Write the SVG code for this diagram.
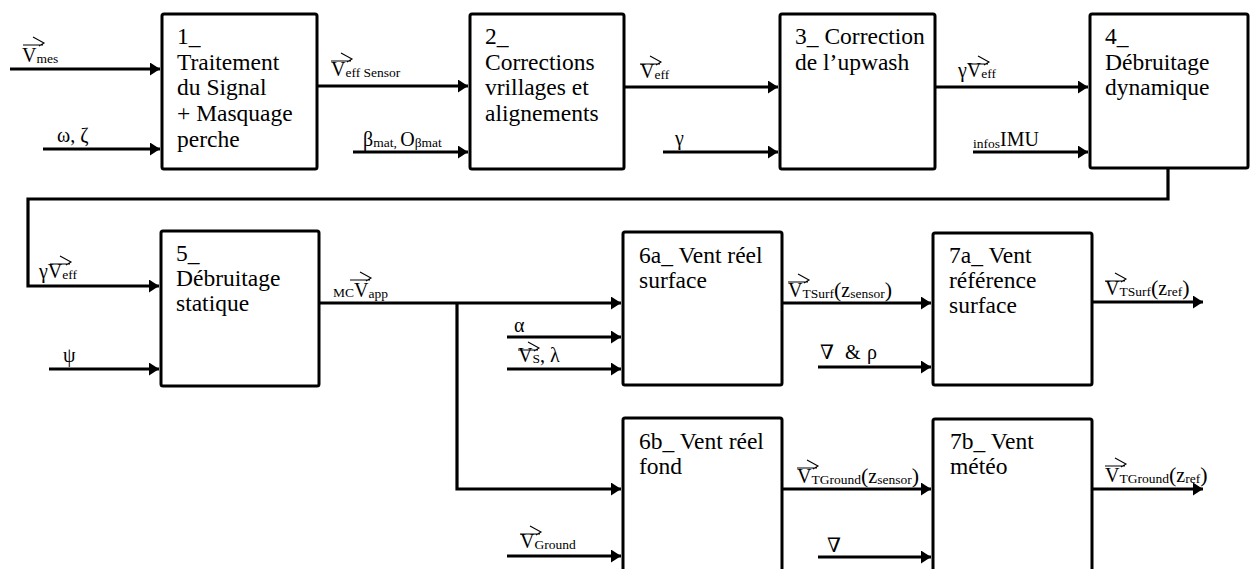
<svg xmlns="http://www.w3.org/2000/svg" width="1251" height="569" viewBox="0 0 1251 569">
<defs>
<style>
.box{fill:#fff;stroke:#000;stroke-width:3;stroke-linejoin:round}
.c{fill:none;stroke:#000;stroke-width:3.2}
.t{font-family:"Liberation Serif","DejaVu Serif",serif;font-size:23.5px;fill:#000}
.m{font-family:"Liberation Serif","DejaVu Serif",serif;font-size:20px;fill:#000}
.s{font-size:13.5px}
.p{font-size:22px}
.v{fill:none;stroke:#000;stroke-width:1.1}
</style>
<marker id="ah" markerUnits="userSpaceOnUse" markerWidth="11" markerHeight="13" refX="10" refY="6.5" orient="auto">
<path d="M0,0 L10,6.5 L0,13 z" fill="#000"/>
</marker>
<path id="vec" d="M0,0 H20 M10,-8 L21,-2 L16,1"/>
</defs>

<g id="connectors">
<path class="c" marker-end="url(#ah)" d="M10,69 H160"/>
<path class="c" marker-end="url(#ah)" d="M43,149 H160"/>
<path class="c" marker-end="url(#ah)" d="M317,86 H468"/>
<path class="c" marker-end="url(#ah)" d="M353,152 H468"/>
<path class="c" marker-end="url(#ah)" d="M624,87 H778"/>
<path class="c" marker-end="url(#ah)" d="M663,152 H778"/>
<path class="c" marker-end="url(#ah)" d="M935,87 H1088"/>
<path class="c" marker-end="url(#ah)" d="M973,152 H1088"/>
<path class="c" marker-end="url(#ah)" d="M1168,169 V199 H28 V286 H159"/>
<path class="c" marker-end="url(#ah)" d="M49,369 H159"/>
<path class="c" marker-end="url(#ah)" d="M319,303 H621"/>
<path class="c" marker-end="url(#ah)" d="M457,303 V489 H621"/>
<path class="c" marker-end="url(#ah)" d="M507,337 H621"/>
<path class="c" marker-end="url(#ah)" d="M507,369 H621"/>
<path class="c" marker-end="url(#ah)" d="M507,556 H621"/>
<path class="c" marker-end="url(#ah)" d="M782,303 H931"/>
<path class="c" marker-end="url(#ah)" d="M818,367 H931"/>
<path class="c" marker-end="url(#ah)" d="M1092,302 H1203"/>
<path class="c" marker-end="url(#ah)" d="M782,489 H931"/>
<path class="c" marker-end="url(#ah)" d="M818,557 H931"/>
<path class="c" marker-end="url(#ah)" d="M1092,489 H1203"/>
</g>

<g id="n1">
<rect class="box" x="162" y="14" width="155" height="155" rx="2"/>
<text class="t" x="177" y="44">1_</text>
<text class="t" x="177" y="70">Traitement</text>
<text class="t" x="177" y="95">du Signal</text>
<text class="t" x="177" y="121">+ Masquage</text>
<text class="t" x="177" y="147">perche</text>
</g>
<g id="n2">
<rect class="box" x="470" y="14" width="154" height="155" rx="2"/>
<text class="t" x="485" y="44">2_</text>
<text class="t" x="485" y="70">Corrections</text>
<text class="t" x="485" y="95">vrillages et</text>
<text class="t" x="485" y="121">alignements</text>
</g>
<g id="n3">
<rect class="box" x="780" y="14" width="155" height="155" rx="2"/>
<text class="t" x="795" y="44">3_ Correction</text>
<text class="t" x="795" y="70">de l’upwash</text>
</g>
<g id="n4">
<rect class="box" x="1090" y="14" width="158" height="154" rx="2"/>
<text class="t" x="1105" y="44">4_</text>
<text class="t" x="1105" y="70">Débruitage</text>
<text class="t" x="1105" y="95">dynamique</text>
</g>
<g id="n5">
<rect class="box" x="161" y="231" width="158" height="155" rx="2"/>
<text class="t" x="176" y="261">5_</text>
<text class="t" x="176" y="286">Débruitage</text>
<text class="t" x="176" y="311">statique</text>
</g>
<g id="n6a">
<rect class="box" x="623" y="232" width="159" height="153" rx="2"/>
<text class="t" x="639" y="263">6a_ Vent réel</text>
<text class="t" x="639" y="288">surface</text>
</g>
<g id="n7a">
<rect class="box" x="933" y="233" width="159" height="152" rx="2"/>
<text class="t" x="949" y="263">7a_ Vent</text>
<text class="t" x="949" y="288">référence</text>
<text class="t" x="949" y="313">surface</text>
</g>
<g id="n6b">
<rect class="box" x="623" y="418" width="159" height="160" rx="2"/>
<text class="t" x="639" y="449">6b_ Vent réel</text>
<text class="t" x="639" y="474">fond</text>
</g>
<g id="n7b">
<rect class="box" x="933" y="419" width="159" height="160" rx="2"/>
<text class="t" x="950" y="449">7b_ Vent</text>
<text class="t" x="950" y="474">météo</text>
</g>

<g id="labels">
<text class="m" x="22" y="62">V<tspan class="s" dy="1">mes</tspan></text>
<use href="#vec" class="v" x="23" y="45"/>
<text class="m" x="57" y="142">ω, ζ</text>

<text class="m" x="331" y="76">V<tspan class="s" dy="1">eff Sensor</tspan></text>
<use href="#vec" class="v" x="331" y="61"/>
<text class="m" x="363" y="146">β<tspan class="s" dy="1">mat, </tspan><tspan dy="-1">O</tspan><tspan class="s" dy="1">βmat</tspan></text>

<text class="m" x="640" y="78">V<tspan class="s" dy="1">eff</tspan></text>
<use href="#vec" class="v" x="640" y="64"/>
<text class="m" x="675" y="145">γ</text>

<text class="m" x="958" y="77">γV<tspan class="s" dy="1">eff</tspan></text>
<use href="#vec" class="v" x="968" y="64"/>
<text class="m" x="973" y="146"><tspan class="s" dy="2">infos</tspan><tspan dy="-2">IMU</tspan></text>

<text class="m" x="39" y="278">γV<tspan class="s" dy="1">eff</tspan></text>
<use href="#vec" class="v" x="50" y="264"/>
<text class="m" x="63" y="362">ψ</text>

<text class="m" x="333" y="297"><tspan class="s">MC</tspan>V<tspan class="s" dy="1">app</tspan></text>
<use href="#vec" class="v" x="350" y="280"/>

<text class="m" x="514" y="332">α</text>
<text class="m" x="518" y="362">V<tspan class="s" dy="1">S</tspan><tspan dy="-1">, λ</tspan></text>
<use href="#vec" class="v" x="518" y="350"/>

<text class="m" x="788" y="297">V<tspan class="s" dy="1">TSurf</tspan><tspan class="p" dy="-1">(</tspan>z<tspan class="s" dy="1">sensor</tspan><tspan class="p" dy="-1">)</tspan></text>
<use href="#vec" class="v" x="788" y="282"/>
<text class="m" x="820" y="359">∇<tspan x="845">&amp;</tspan><tspan x="867">ρ</tspan></text>

<text class="m" x="1105" y="295">V<tspan class="s" dy="1">TSurf</tspan><tspan class="p" dy="-1">(</tspan>z<tspan class="s" dy="1">ref</tspan><tspan class="p" dy="-1">)</tspan></text>
<use href="#vec" class="v" x="1105" y="281"/>

<text class="m" x="520" y="548">V<tspan class="s" dy="1">Ground</tspan></text>
<use href="#vec" class="v" x="520" y="534"/>

<text class="m" x="797" y="483">V<tspan class="s" dy="1">TGround</tspan><tspan class="p" dy="-1">(</tspan>z<tspan class="s" dy="1">sensor</tspan><tspan class="p" dy="-1">)</tspan></text>
<use href="#vec" class="v" x="797" y="468"/>
<text class="m" x="827" y="552">∇</text>

<text class="m" x="1105" y="482">V<tspan class="s" dy="1">TGround</tspan><tspan class="p" dy="-1">(</tspan>z<tspan class="s" dy="1">ref</tspan><tspan class="p" dy="-1">)</tspan></text>
<use href="#vec" class="v" x="1105" y="466"/>
</g>
</svg>
